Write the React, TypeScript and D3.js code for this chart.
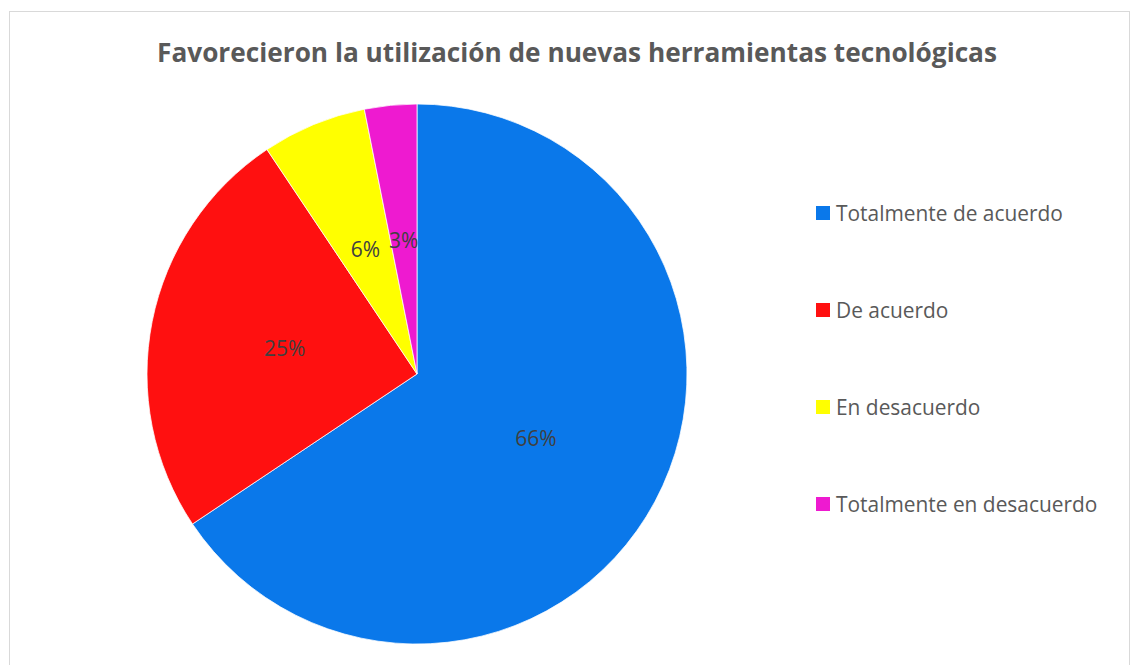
import React from "react";
import * as d3 from "d3";

const categories = ["Totalmente de acuerdo", "De acuerdo", "En desacuerdo", "Totalmente en desacuerdo"];
const values = [21, 8, 2, 1];
const colors = ["#0a78ea", "#ff1010", "#ffff00", "#ee1ad0"];
const title = "Favorecieron la utilización de nuevas herramientas tecnológicas";

export default function App() {
  const W = 1130, H = 665;
  const cx = 417, cy = 374, r = 270;
  const total = d3.sum(values);
  const pie = d3.pie<number>().sort(null).value((d) => d)(values);
  const arc = d3.arc<d3.PieArcDatum<number>>().innerRadius(0).outerRadius(r);
  const fmt = (v: number) => `${Math.round((v / total) * 100)}%`;
  const legendY = d3.scalePoint<number>().domain(d3.range(categories.length)).range([213, 504]);
  return (
    <svg width={W} height={H} style={{ position: "absolute", left: 0, top: 0 }} fontFamily="'Open Sans', 'Noto Sans', sans-serif">
      <rect x={0} y={0} width={W} height={H} fill="#fff" />
      <rect x={9.5} y={11.5} width={1120} height={660} fill="#fff" stroke="#d9d9d9" strokeWidth={1} />
      <text x={577} y={62} textAnchor="middle" fontSize={27} fontWeight="bold" fill="#595959" textLength={840} lengthAdjust="spacingAndGlyphs">
        {title}
      </text>
      <g transform={`translate(${cx},${cy})`}>
        {pie.map((p, i) => (
          <path key={i} d={arc(p) || ""} fill={colors[i]} stroke="#fff" strokeWidth={0.75} />
        ))}
        {pie.map((p, i) => {
          const [x, y] = arc.centroid(p);
          return (
            <text key={i} x={x} y={y} textAnchor="middle" dominantBaseline="central" fontSize={21} fill="#404040">
              {fmt(p.data)}
            </text>
          );
        })}
      </g>
      {categories.map((c, i) => (
        <g key={c} transform={`translate(816,${legendY(i)})`}>
          <rect x={0} y={-7} width={14} height={14} fill={colors[i]} />
          <text x={20} y={0} dominantBaseline="central" fontSize={20.9} fill="#595959">
            {c}
          </text>
        </g>
      ))}
    </svg>
  );
}
